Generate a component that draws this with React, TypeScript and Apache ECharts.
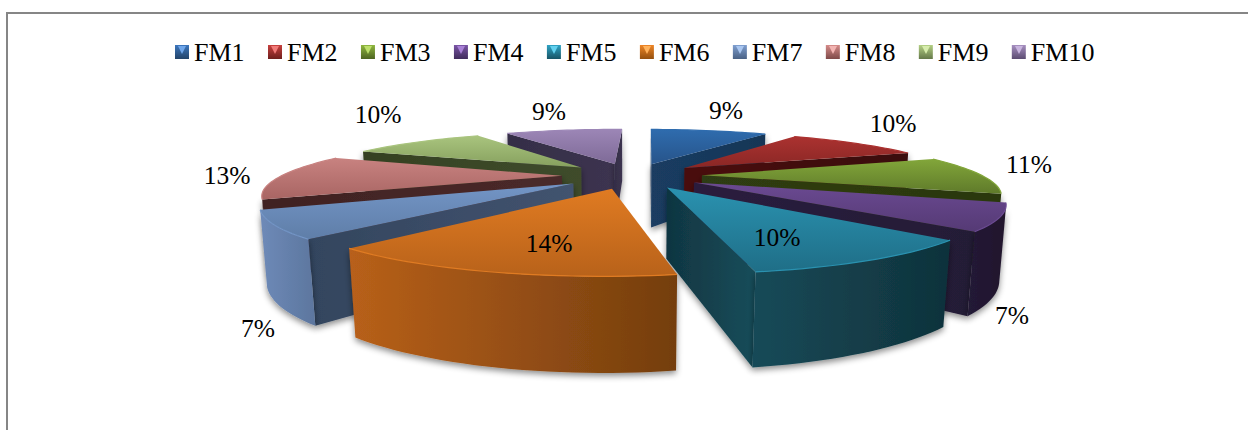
import React, { useEffect, useRef } from "react";
import * as echarts from "echarts";

// Share of each group, in percent, clockwise from twelve o'clock.
const categories = ["FM1", "FM2", "FM3", "FM4", "FM5", "FM6", "FM7", "FM8", "FM9", "FM10"];
const shares = [9, 10, 11, 7, 10, 14, 7, 13, 10, 9];

// Face colours per slice.
const topColors = [
  ["#2f6cae", "#27548a"], ["#ab3230", "#8a2725"], ["#82a63a", "#5f7a2a"], ["#6b4a92", "#553a75"],
  ["#2a92b0", "#1f6e87"], ["#e07b22", "#b8621a"], ["#7395c6", "#5f7ea8"], ["#c88280", "#a86563"],
  ["#a9c47e", "#86a05e"], ["#9c86b6", "#7e6a97"],
];
const wallColors = [
  ["#1c4068", "#163452"], ["#4e1110", "#3c0b0a"], ["#354516", "#2b3810"], ["#241a36", "#20162c"],
  ["#174a58", "#0f323b"], ["#b8601a", "#743e0e"], ["#6e8ab8", "#5c769e"], ["#4c2a2a", "#432424"],
  ["#3f4e2c", "#374426"], ["#3a324c", "#322b42"],
];
const sideColors = [
  ["#1a3c62", "#173656"], ["#4a0f0e", "#3a0a09"], ["#2f3c12", "#2b380f"], ["#2a1d3e", "#241a36"],
  ["#103541", "#174d5a"], ["#8a4a14", "#7a400f"], ["#33455e", "#42536f"], ["#402222", "#4a2a2a"],
  ["#354122", "#3f4c2c"], ["#352e46", "#3c3450"],
];
const legendColors = [
  ["#3c76bd", "#234469"], ["#c8403e", "#6e1f1d"], ["#8fb63f", "#4d6420"], ["#7a55a6", "#412c5c"],
  ["#2fa3c4", "#185566"], ["#ee8526", "#94500f"], ["#7f9fd0", "#4a6285"], ["#d58b89", "#7f4a49"],
  ["#b4d084", "#65794a"], ["#a68fc0", "#5c4c72"],
];
const legendGlints = [
  "#6fa6ea", "#f07a78", "#bce06a", "#a880d6", "#62d0ee", "#ffb25c", "#a9c6f0", "#f2b4b2", "#d6ecac", "#c8b4de",
];

// Centre of every percentage label on the page.
const labelCentres = [
  [726, 110], [893, 123], [1029, 164], [1012, 315], [777, 237],
  [549, 243], [258, 328], [227, 175], [378, 114], [549, 111],
];

const FONT = '"Liberation Serif", "Times New Roman", serif';

// Perspective camera over the pie: unit radius in the world, pixels on the page.
const CENTRE_X = 632;
const CENTRE_Y = 175.5;
const SCALE_X = 280;
const SCALE_Y = 51;
const DEPTH_KX = 0.29;
const DEPTH_KY = 0.3;
const DROP = 70.5;
const DROP_W_X = 0.016;
const DROP_W_Y = 0.05;
const EXPLODE = 0.25;
const FIRST_SLICE_ANGLE = (1 * Math.PI) / 180;

const LEGEND_LEFT = 175;
const LEGEND_TOP = 45;
const LEGEND_PITCH = 93;
const MARKER = 14;

function project(x: number, y: number, h: number): [number, number] {
  return [
    CENTRE_X + (SCALE_X * x) / (1 + DEPTH_KX * y + DROP_W_X * h),
    CENTRE_Y + (-SCALE_Y * y + DROP * h) / (1 + DEPTH_KY * y + DROP_W_Y * h),
  ];
}

function signedArea(pts: number[][]): number {
  let a = 0;
  pts.forEach((p, i) => {
    const q = pts[(i + 1) % pts.length];
    a += p[0] * q[1] - q[0] * p[1];
  });
  return a / 2;
}

const total = shares.reduce((s, v) => s + v, 0);
const startShares = shares.map((_, i) => shares.slice(0, i).reduce((s, v) => s + v, 0));
const toAngle = (share: number) => (share / total) * Math.PI * 2;

function vertical(c: string[]) {
  return new echarts.graphic.LinearGradient(0, 0, 0, 1, [
    { offset: 0, color: c[0] },
    { offset: 1, color: c[1] },
  ]);
}
function horizontal(c: string[]) {
  return new echarts.graphic.LinearGradient(0, 0, 1, 0, [
    { offset: 0, color: c[0] },
    { offset: 1, color: c[1] },
  ]);
}

const SHADOW = { shadowBlur: 6, shadowColor: "rgba(0,0,0,0.45)", shadowOffsetY: 3 };

// Builds one exploded slice: visible radial faces, visible outer wall, then the top.
function renderSlice(i: number, value: number) {
  const a0 = FIRST_SLICE_ANGLE + toAngle(startShares[i]);
  const a1 = a0 + toAngle(value);
  const mid = (a0 + a1) / 2;
  const ox = EXPLODE * Math.sin(mid);
  const oy = EXPLODE * Math.cos(mid);
  const steps = Math.max(6, Math.round((a1 - a0) / 0.03));
  const rim: number[][] = [];
  for (let s = 0; s <= steps; s++) {
    const a = a0 + ((a1 - a0) * s) / steps;
    rim.push([ox + Math.sin(a), oy + Math.cos(a)]);
  }
  const topRim = rim.map((p) => project(p[0], p[1], 0));
  const lowRim = rim.map((p) => project(p[0], p[1], 1));
  const apexTop = project(ox, oy, 0);
  const apexLow = project(ox, oy, 1);

  const children: any[] = [];

  const startFace = [apexTop, topRim[0], lowRim[0], apexLow];
  const endFace = [apexTop, topRim[steps], lowRim[steps], apexLow];
  if (signedArea(startFace) < 0) {
    children.push({ type: "polygon", shape: { points: startFace }, style: { fill: horizontal(sideColors[i]), ...SHADOW } });
  }
  if (signedArea(endFace) > 0) {
    children.push({ type: "polygon", shape: { points: endFace }, style: { fill: horizontal(sideColors[i]), ...SHADOW } });
  }

  // Only the stretch of the rim that faces the viewer gets a wall.
  const seen: number[] = [];
  for (let s = 0; s < steps; s++) {
    if (signedArea([topRim[s], topRim[s + 1], lowRim[s + 1], lowRim[s]]) < 0) seen.push(s);
  }
  if (seen.length) {
    const from = seen[0];
    const to = seen[seen.length - 1] + 1;
    const wall = [...topRim.slice(from, to + 1), ...lowRim.slice(from, to + 1).reverse()];
    children.push({ type: "polygon", shape: { points: wall }, style: { fill: horizontal(wallColors[i]), ...SHADOW } });
  }

  children.push({
    type: "polygon",
    shape: { points: [apexTop, ...topRim] },
    style: { fill: vertical(topColors[i]) },
  });
  children.push({
    type: "polyline",
    shape: { points: topRim },
    style: { fill: "none", stroke: topColors[i][0], lineWidth: 1.2 },
  });
  return { type: "group", children };
}

// Farther slices are painted first.
const backToFront = shares
  .map((v, i) => ({ i, depth: Math.cos(toAngle(startShares[i]) + toAngle(v) / 2) }))
  .sort((a, b) => b.depth - a.depth)
  .map((d) => d.i);

function buildOption() {
  const sliceSeries = categories.map((name, i) => ({
    type: "custom",
    name,
    coordinateSystem: "none",
    silent: true,
    z: 2 + backToFront.indexOf(i),
    itemStyle: { color: vertical(legendColors[i]) },
    data: [[shares[i]]],
    renderItem: (_: any, api: any) => renderSlice(i, api.value(0)),
  }));
  const labelSeries = {
    type: "custom",
    name: "share labels",
    coordinateSystem: "none",
    silent: true,
    z: 40,
    data: shares.map((v) => [v]),
    renderItem: (params: any, api: any) => ({
      type: "text",
      x: labelCentres[params.dataIndex][0],
      y: labelCentres[params.dataIndex][1],
      style: {
        text: `${api.value(0)}%`,
        fill: "#000000",
        font: `25.5px ${FONT}`,
        align: "center",
        verticalAlign: "middle",
      },
    }),
  };
  const glints = categories.map((_, i) => {
    const x = LEGEND_LEFT + i * LEGEND_PITCH;
    return {
      type: "polygon",
      z: 60,
      shape: {
        points: [
          [x + 3, LEGEND_TOP + 1],
          [x + MARKER - 3, LEGEND_TOP + 1],
          [x + MARKER / 2, LEGEND_TOP + 9],
        ],
      },
      style: { fill: legendGlints[i] },
    };
  });
  return {
    animation: false,
    backgroundColor: "#ffffff",
    legend: {
      data: categories,
      left: LEGEND_LEFT,
      top: LEGEND_TOP - 6,
      padding: 0,
      icon: "rect",
      itemWidth: MARKER,
      itemHeight: MARKER,
      itemGap: 23.4,
      selectedMode: false,
      textStyle: { fontFamily: FONT, fontSize: 26, color: "#000000", padding: [0, 0, 0, 0] },
    },
    graphic: [
      { type: "line", z: 60, shape: { x1: 6, y1: 13, x2: 1248, y2: 13 }, style: { stroke: "#868686", lineWidth: 2 } },
      { type: "line", z: 60, shape: { x1: 7, y1: 12, x2: 7, y2: 430 }, style: { stroke: "#868686", lineWidth: 2 } },
      ...glints,
    ],
    series: [...sliceSeries, labelSeries],
  };
}

export default function App() {
  const host = useRef<HTMLDivElement>(null);
  useEffect(() => {
    const chart = echarts.init(host.current!, undefined, { renderer: "svg" });
    chart.setOption(buildOption() as any);
    return () => chart.dispose();
  }, []);
  return <div ref={host} style={{ position: "fixed", left: 0, top: 0, width: 1248, height: 430 }} />;
}
